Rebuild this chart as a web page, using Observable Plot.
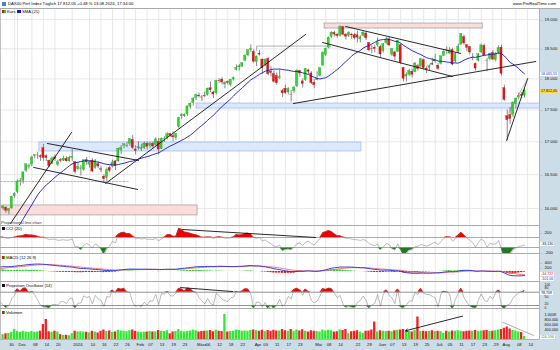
<!DOCTYPE html>
<html><head><meta charset="utf-8">
<script src="https://cdn.jsdelivr.net/npm/d3@7"></script>
<script src="https://cdn.jsdelivr.net/npm/@observablehq/plot@0.6"></script>
<style>
html,body{margin:0;padding:0;background:#fff}
#wrap{position:relative;width:560px;height:350px;overflow:hidden;background:#fff;font-family:"Liberation Sans",Arial,sans-serif;}
#wrap svg{position:absolute;left:0}
.t{position:absolute;font-size:4.2px;line-height:5px;white-space:nowrap;color:#000}
.bg{position:absolute}
</style></head><body><div id="wrap"></div><script>
// ---------------- DATA ----------------
const holidays = ["2023-12-25","2023-12-26","2024-01-01","2024-03-29","2024-04-01","2024-05-01"];
const firstDay = "2023-11-24", lastAxisDay = "2024-08-20";

const open = [
16000,16010,15960,16000,16180,
16240,16400,16410,16560,16620,16650,16780,16790,16780,16900,16780,16710,16660,16760,16650,16720,16710,16740,16700,
16750,16690,16580,16590,16570,16720,16650,16710,16600,16660,16580,16470,16450,16600,16620,16700,16700,16870,16940,16930,16970,17030,
16880,16900,16890,16900,16970,16940,16970,16950,17000,16890,17040,17060,17120,17090,17060,17230,17400,17400,17430,17550,17610,
17690,17730,17700,17720,17740,17850,17780,17770,17970,17990,17910,17950,17900,17990,18150,18190,18200,18300,18390,18480,
18450,18280,18420,18320,18230,18330,18120,18080,18050,18010,17800,17840,17780,17740,17800,17880,18130,17960,17980,18140,18090,
17940,17980,18050,18220,18400,18520,18700,18770,18740,18720,18870,18740,18720,18740,18730,18730,18660,18720,18760,18600,18500,18520,
18560,18530,18460,18600,18660,18400,18440,18450,18560,18180,18040,18070,18120,18110,18210,18200,18310,18170,18180,18250,
18290,18220,18250,18380,18480,18420,18480,18290,18450,18570,18700,18560,18530,18350,18250,18300,18440,18550,18300,18330,18430,18310,18430,
18520,17850,17400,17420,17420,17600,17700,17740,17730];
const high = [
16040,16030,16000,16180,16230,
16420,16440,16540,16660,16660,16780,16800,16840,16800,16961,16800,16720,16770,16800,16720,16740,16780,16770,16780,
16880,16700,16680,16640,16720,16760,16700,16740,16730,16700,16620,16500,16600,16630,16720,16710,16900,16940,16970,16990,17050,17100,
16940,17000,16960,17000,17000,16990,17000,17060,17050,17060,17080,17140,17130,17150,17130,17380,17440,17440,17560,17610,17700,
17750,17770,17730,17790,17850,17950,17800,17980,18000,18020,17960,17970,17990,18030,18230,18240,18270,18400,18480,18567,
18480,18380,18470,18330,18330,18360,18200,18130,18100,18150,17830,17900,17860,17810,17880,18150,18140,18000,18170,18160,18120,
17990,18120,18190,18450,18510,18700,18790,18800,18760,18892,18880,18760,18790,18760,18760,18800,18720,18790,18790,18610,18560,18560,
18680,18560,18590,18690,18690,18510,18460,18640,18580,18190,18100,18160,18160,18270,18240,18340,18330,18200,18230,18340,
18410,18250,18380,18480,18530,18520,18510,18430,18580,18760,18730,18570,18540,18420,18260,18420,18580,18580,18340,18430,18470,18440,18550,
18560,17900,17500,17540,17630,17690,17770,17780,17840];
const low = [
15970,15930,15910,15990,16150,
16220,16330,16360,16530,16580,16620,16740,16730,16700,16700,16700,16600,16650,16700,16620,16680,16700,16690,16690,
16700,16510,16560,16480,16550,16640,16600,16530,16580,16590,16530,16380,16400,16530,16600,16560,16680,16800,16890,16910,16930,16880,
16800,16870,16850,16880,16870,16900,16900,16930,16800,16880,16990,17030,17070,17000,17020,17200,17350,17380,17400,17510,17560,
17650,17690,17630,17700,17720,17780,17680,17740,17930,17900,17840,17900,17870,17970,18130,18130,18190,18280,18370,18440,
18260,18200,18380,18080,18200,18050,18030,17930,17900,17990,17700,17750,17740,17626,17760,17860,18030,17850,17960,18070,17910,
17840,17970,18030,18210,18370,18500,18680,18700,18680,18700,18720,18650,18690,18660,18650,18600,18600,18700,18640,18450,18420,18430,
18530,18350,18430,18570,18540,18370,18300,18440,18240,17950,17950,18040,18020,18100,18130,18180,18150,18090,18130,18220,
18260,18140,18230,18370,18410,18410,18220,18260,18420,18560,18560,18450,18400,18300,18130,18280,18420,18380,18120,18300,18300,18280,18400,
18050,17640,17024,17270,17380,17520,17660,17680,17690];
const close = [
16029,15967,15992,16166,16215,
16397,16405,16533,16656,16629,16759,16794,16791,16766,16752,16751,16630,16744,16733,16687,16706,16742,16702,16752,
16769,16538,16617,16594,16716,16688,16689,16547,16704,16622,16572,16432,16567,16555,16683,16627,16889,16907,16961,16942,17038,16904,
16859,16918,16904,16972,16922,16963,16927,17037,16880,17047,17046,17117,17093,17068,17118,17370,17419,17424,17556,17601,17678,
17735,17716,17698,17716,17842,17815,17747,17965,17961,17942,17936,17933,17987,18015,18180,18206,18261,18384,18477,18492,
18283,18367,18403,18175,18319,18077,18097,17955,17930,18027,17767,17770,17837,17737,17860,18137,18089,17917,18161,18118,17932,
17897,18001,18175,18430,18498,18686,18773,18742,18716,18869,18738,18704,18768,18726,18680,18691,18693,18775,18677,18473,18496,18498,
18608,18405,18575,18653,18557,18494,18369,18630,18265,18002,18068,18131,18067,18254,18164,18326,18177,18155,18211,18235,
18290,18164,18374,18450,18475,18472,18237,18407,18534,18748,18590,18518,18438,18354,18171,18407,18558,18387,18299,18417,18320,18411,18509,
18083,17661,17339,17354,17615,17680,17723,17726,17812];
// volume in thousands
const volume = [
190,230,240,290,400,
330,290,330,300,280,320,290,300,330,600,800,310,290,330,300,190,160,170,150,
230,330,300,310,300,290,260,330,300,260,330,380,320,340,280,300,370,340,330,310,350,380,
330,300,280,290,300,320,300,310,360,330,320,350,230,300,320,400,330,300,320,340,380,
350,300,320,330,340,360,310,370,330,320,1000,300,320,330,380,360,330,340,330,360,
380,350,330,370,310,360,330,370,340,340,400,350,330,400,330,380,340,390,330,300,350,
330,320,300,380,340,370,350,300,310,380,360,400,230,310,330,350,300,250,330,340,380,700,
300,350,330,320,330,310,350,370,380,400,330,320,300,370,900,320,330,310,320,350,
320,330,310,250,330,300,340,330,350,330,310,330,340,330,360,330,340,350,360,320,330,350,380,
400,450,500,420,360,340,300,280,116];
// history before the first visible candle (Aug 21 - Nov 23, 2023), for SMA / oscillators
const preClose = [15603,15771,15729,15622,15632,15792,15931,15892,15947,15840,
15825,15772,15742,15719,15740,15801,15715,15654,15806,15893,15727,15664,15782,15572,15557,
15405,15255,15218,15323,15387,15247,15085,15100,15070,15229,15128,15424,15461,15425,15187,
15238,15252,15095,15045,14798,14800,14880,14892,14731,14688,14716,14810,14924,15144,15189,
15136,15153,15229,15353,15234,15345,15615,15749,15787,15919,15901,15900,15958,15994];
const preHigh = [14860,14790,14770,14830,14940,15170,15250,15220,15170,15240,15370,15290,15370,15640,15800,15800,15950,15930,15940,15990,16010];
const preLow  = [14680,14630,14640,14710,14760,15000,15110,15110,15070,15120,15210,15160,15230,15330,15680,15690,15780,15840,15850,15880,15940];

const tickDates = ["2023-11-30","2023-12-01","2023-12-08","2023-12-14","2023-12-20","2024-01-02","2024-01-10","2024-01-16","2024-01-22","2024-01-26",
"2024-02-01","2024-02-07","2024-02-13","2024-02-19","2024-02-23","2024-03-01","2024-03-06","2024-03-12","2024-03-18","2024-03-22",
"2024-04-02","2024-04-05","2024-04-11","2024-04-17","2024-04-23","2024-05-02","2024-05-08","2024-05-14","2024-05-22","2024-05-28",
"2024-06-03","2024-06-07","2024-06-13","2024-06-19","2024-06-25","2024-07-01","2024-07-05","2024-07-11","2024-07-17","2024-07-23","2024-07-29",
"2024-08-01","2024-08-08","2024-08-14"];
const tickLabels = ["30","Dec.","08","14","20","2024","10","16","22","26","Feb.","07","13","19","23","März","06","12","18","22",
"Apr.","05","11","17","23","Mai","08","14","22","28","Juni","07","13","19","25","Juli","05","11","17","23","29","Aug.","08","14"];
const priceTicks = [16000,16500,17000,17500,18000,18500,19000];
const cciTicks = [200, -200];
const macdTicks = [400, 200];
const poTicks = [100, 80, 50, 20, 0];
const volTicks = [1000, 800, 600, 400];

// drawings: [date index, price] pairs
const trendLines = [
 [[2.6,15783],[23.75,17145]],
 [[15.4,16974],[47.0,16714]],
 [[10.6,16608],[46.7,16279]],
 [[35.6,16368],[105.0,18743]],
 [[118.9,18880],[158.8,18422]],
 [[110.9,18607],[156.0,18040]],
 [[100.8,17602],[184.9,18288]],
 [[174.8,17020],[182.1,18008]]
];
const zones = [
 {i1:111.6,i2:166.5,p1:18845,p2:18931,fill:"#fbdcdc",stroke:"#999"},
 {i1:-2,i2:67.5,p1:15899,p2:16044,fill:"#fbdcdc",stroke:"#999"},
 {i1:12.6,i2:124.4,p1:16851,p2:16989,fill:"#dce8fb",stroke:"#9bb6e6"},
 {i1:67.2,i2:190,p1:17522,p2:17602,fill:"#dce8fb",stroke:"#9bb6e6"}
];

// ---------------- LAYOUT ----------------
const wrap = document.getElementById("wrap");
const xDomain = [-0.9, 186.2];
const fmt = d => d3.format(",")(d).replace(/,/g, ".");
const GREEN = "#22dd22", RED = "#ee1111";
function tradingDays(a, b) {
  const out = []; const d = new Date(a + "T00:00:00Z"), e = new Date(b + "T00:00:00Z");
  while (d <= e) { const w = d.getUTCDay(), s = d.toISOString().slice(0,10);
    if (w !== 0 && w !== 6 && !holidays.includes(s)) out.push(s); d.setUTCDate(d.getUTCDate()+1); }
  return out;
}
const days = tradingDays(firstDay, lastAxisDay);
const idx = new Map(days.map((s,i)=>[s,i]));
const ticks = tickDates.map((s,k)=>({i: idx.get(s), label: tickLabels[k], first: k === 0}));

function div(cls, css, text) { const e = document.createElement("div"); e.className = cls; Object.assign(e.style, css); if (text != null) e.textContent = text; wrap.appendChild(e); return e; }
div("bg", {left:"539px", top:"8px", width:"21px", height:"342px", background:"#cddde8"});
div("bg", {left:"0px", top:"339px", width:"560px", height:"11px", background:"#cddde8"});

function panel(top, height, y, marks) {
  const svg = Plot.plot({
    width: 560, height, marginLeft: 0, marginRight: 21, marginTop: 0, marginBottom: 0,
    x: {type: "linear", domain: xDomain, axis: null},
    y: {...y, axis: null},
    style: {background: "transparent", fontFamily: "Liberation Sans, Arial, sans-serif", fontSize: "4.2px", overflow: "visible"},
    marks: [
      Plot.ruleX(ticks, {x: "i", stroke: "#e2e2e2", strokeWidth: 0.8}),
      ...marks,
      Plot.frame({stroke: "#9a9a9a", strokeWidth: 0.6})
    ]
  });
  svg.style.top = top + "px";
  wrap.appendChild(svg);
}
function rightLabels(values, fmtf, fs = 4.2) {
  return [
    Plot.text(values, {x: () => xDomain[1], y: d => d, text: fmtf, dx: 5, textAnchor: "start", fontSize: fs, fill: "#111"}),
    Plot.text(values, {x: () => xDomain[1], y: d => d, text: () => "-", dx: 1, textAnchor: "start", fontSize: fs, fill: "#333"})
  ];
}
function shiftedLabels(values, fmtf, shift, fs) {
  // axis labels nudged vertically (in px) where the scale is crowded
  return values.map(v => Plot.text([v], {x: () => xDomain[1], y: d => d, text: fmtf, dx: 5, dy: shift[v] || 0, textAnchor: "start", fontSize: fs, fill: "#111"}));
}

const bars = close.map((c,i)=>({i, o: open[i], h: high[i], l: low[i], c, v: volume[i], up: c >= open[i]}));
const off = preClose.length;
const allC = preClose.concat(close);
const series = allC.map((c,k)=>({i: k - off, c}));
const offHL = preHigh.length;
const allH = preHigh.concat(high), allL = preLow.concat(low);
const cHL = preClose.slice(off - offHL).concat(close);

// ---------- price panel ----------
const lineData = trendLines.flatMap((seg,k)=>seg.map(p=>({k, i:p[0], p:p[1]})));
panel(8, 217, {type: "log", domain: [15754, 19191]}, [
  Plot.ruleY(priceTicks, {stroke: "#e2e2e2", strokeWidth: 0.8}),
  Plot.rect(zones, {x1: "i1", x2: "i2", y1: "p1", y2: "p2", fill: "fill", stroke: "stroke", strokeWidth: 0.7, clip: true}),
  Plot.line([{i:88,p:18472},{i:88,p:18546},{i:113.7,p:18546}], {x:"i", y:"p", stroke:"#999", strokeWidth:0.8}),
  Plot.line([{i:-1,p:16398},{i:43.5,p:16398}], {x:"i", y:"p", stroke:"#999", strokeWidth:0.7, strokeDasharray:"2,1.5", clip:true}),
  Plot.ruleX(bars, {x: "i", y1: "l", y2: "h", stroke: "#555", strokeWidth: 0.7}),
  Plot.rect(bars, {x1: d=>d.i-0.37, x2: d=>d.i+0.37, y1: "o", y2: d => d.c === d.o ? d.o*1.0003 : d.c, fill: d => d.up ? GREEN : RED, stroke: d => d.up ? "#168a16" : "#991010", strokeWidth: 0.25}),
  Plot.lineY(series, Plot.windowY({k: 21, anchor: "end", reduce: "mean"}, {x: "i", y: "c", stroke: "#1515c8", strokeWidth: 0.9, clip: true})),
  Plot.line(lineData, {x: "i", y: "p", z: "k", stroke: "#111", strokeWidth: 0.9, clip: true}),
  Plot.line([{i:175.5,p:17459},{i:182.1,p:18008}], {x:"i", y:"p", stroke:"#777", strokeWidth:0.5}),
  ...rightLabels(priceTicks, fmt)
]);

// ---------- CCI ----------
const cci = [];
for (let k = 19; k < allH.length; k++) {
  const tp = d3.range(k-19, k+1).map(j => (allH[j] + allL[j] + cHL[j]) / 3);
  const m = d3.mean(tp), md = d3.mean(tp, t => Math.abs(t - m));
  cci.push({i: k - offHL, v: (tp[19] - m) / (0.015 * md)});
}
panel(225, 28, {domain: [-220, 340]}, [
  Plot.areaY(cci, {x: "i", y1: () => 100, y2: d => Math.max(100, d.v), fill: "#ee0000", clip: true}),
  Plot.areaY(cci, {x: "i", y1: d => Math.min(-100, d.v), y2: () => -100, fill: "#1f7a1f", clip: true}),
  Plot.ruleY([100, -100], {stroke: "#8a8af0", strokeWidth: 0.8}),
  Plot.line(cci, {x: "i", y: "v", stroke: "#777", strokeWidth: 0.5, clip: true}),
  Plot.line([{i:62.3,v:260},{i:108.5,v:100}], {x:"i", y:"v", stroke:"#111", strokeWidth:0.9}),
  ...rightLabels(cciTicks, d => String(d))
]);

// ---------- MACD ----------
const ema = (arr, p) => { const a = 2/(p+1); let e = arr[0]; return arr.map(v => e = a*v + (1-a)*e); };
const e12 = ema(allC, 12), e26 = ema(allC, 26);
const mline = allC.map((_,k) => e12[k] - e26[k]);
const sig = ema(mline, 9);
const macd = allC.map((_,k) => ({i: k - off, m: mline[k], s: sig[k], h: mline[k] - sig[k]})).filter(d => d.i >= -1);
panel(253, 28, {domain: [-480, 860]}, [
  Plot.rect(macd, {x1: d=>d.i-0.4, x2: d=>d.i+0.4, y1: () => 0, y2: "h", fill: d => d.h >= 0 ? "#22cc22" : "#ee1111", clip: true}),
  Plot.line(macd, {x: "i", y: "s", stroke: "#f07070", strokeWidth: 0.9, clip: true}),
  Plot.line(macd, {x: "i", y: "m", stroke: "#2a2ae0", strokeWidth: 0.9, clip: true}),
  ...rightLabels(macdTicks, d => String(d))
]);

// ---------- Projection Oscillator ----------
const po = [], n = 14;
for (let k = n - 1; k < allH.length; k++) {
  const js = d3.range(n);
  const hs = js.map(j => allH[k-n+1+j]), ls = js.map(j => allL[k-n+1+j]);
  const slope = ys => { const mx = (n-1)/2, my = d3.mean(ys); let a = 0, b = 0; js.forEach(j => { a += (j-mx)*(ys[j]-my); b += (j-mx)**2; }); return a/b; };
  const sh = slope(hs), sl = slope(ls);
  const ub = d3.max(js, j => hs[j] + (n-1-j)*sh), lb = d3.min(js, j => ls[j] + (n-1-j)*sl);
  po.push({i: k - offHL, v: 100 * (cHL[k] - lb) / (ub - lb)});
}
panel(281, 27, {domain: [6.5, 128.3]}, [
  Plot.areaY(po, {x: "i", y1: () => 80, y2: d => Math.max(80, d.v), fill: "#ee0000", clip: true}),
  Plot.areaY(po, {x: "i", y1: d => Math.min(20, d.v), y2: () => 20, fill: "#1f7a1f", clip: true}),
  Plot.ruleY([80, 20], {stroke: "#777", strokeWidth: 0.8}),
  Plot.line(po, {x: "i", y: "v", stroke: "#777", strokeWidth: 0.5, clip: true}),
  Plot.line([{i:61.6,v:101},{i:79.7,v:83}], {x:"i", y:"v", stroke:"#111", strokeWidth:0.9}),
  ...shiftedLabels(poTicks, d => String(d), {100: -3.3, 80: -3.9, 50: -1.6, 20: -1.5, 0: -2}, 3.4)
]);

// ---------- Volume ----------
panel(308, 31, {domain: [0, 1240]}, [
  Plot.rect(bars, {x1: d=>d.i-0.4, x2: d=>d.i+0.4, y1: () => 0, y2: "v", fill: d => d.up ? "#33e833" : "#ee2222"}),
  Plot.arrow([{x1:159.5,y1:935,x2:139.7,y2:350}], {x1:"x1", y1:"y1", x2:"x2", y2:"y2", stroke:"#111", strokeWidth:0.9, headLength:4}),
  Plot.line([{i:173.4,v:690},{i:184.2,v:160}], {x:"i", y:"v", stroke:"#777", strokeWidth:0.6}),
  ...shiftedLabels(volTicks, d => d === 1000 ? "1.000K" : fmt(d*1000), {}, 3.8)
]);

// ---------- date axis ----------
const axSvg = Plot.plot({
  width: 560, height: 11, marginLeft: 0, marginRight: 21, marginTop: 0, marginBottom: 0,
  x: {type: "linear", domain: xDomain, axis: null}, y: {domain: [0, 1], axis: null},
  style: {background: "transparent", fontFamily: "Liberation Sans, Arial, sans-serif", overflow: "visible"},
  marks: [
    Plot.text(ticks.filter(d => !d.first), {x: "i", y: () => 0.5, text: "label", textAnchor: "start", dx: 1, fontSize: 4.2, fill: "#111", fontWeight: d => /[a-zA-Z]|2024/.test(d.label) ? "bold" : "normal"}),
    Plot.text(ticks.filter(d => d.first), {x: "i", y: () => 0.5, text: "label", textAnchor: "end", dx: -0.8, fontSize: 4.2, fill: "#111"})
  ]
});
axSvg.style.top = "339px"; wrap.appendChild(axSvg);

// ---------- texts ----------
div("bg", {left:"0px", top:"7.5px", width:"560px", height:"0.6px", background:"#aaa"});
div("bg", {left:"2px", top:"1.5px", width:"4px", height:"4px", background:"#4a7fd0", borderRadius:"0.5px"});
div("t", {left:"8px", top:"1px"}, "DAX40 Perf Index Täglich 17.812,05 +0.48 % 13.08.2024, 17:34:00");
div("t", {right:"4px", top:"1px"}, "www.ProRealTime.com");
div("bg", {left:"2px", top:"10px", width:"2px", height:"3px", background:"#ee1111"});
div("bg", {left:"4px", top:"10px", width:"2px", height:"3px", background:"#22cc22"});
div("t", {left:"7px", top:"9.2px"}, "Kurs");
div("bg", {left:"17px", top:"10px", width:"4px", height:"3px", background:"#1515c8"});
div("t", {left:"22px", top:"9.2px"}, "SMA (21)");
div("t", {left:"1px", top:"220px", color:"#333"}, "Proportional line chan");
div("bg", {left:"2px", top:"227px", width:"3px", height:"3px", background:"#111"});
div("t", {left:"6px", top:"226px"}, "CCI (20)");
div("bg", {left:"2px", top:"256px", width:"1.5px", height:"3px", background:"#ee1111"});
div("bg", {left:"3.5px", top:"256px", width:"1.5px", height:"3px", background:"#22cc22"});
div("t", {left:"6px", top:"255px"}, "MACD (12 26 9)");
div("bg", {left:"2px", top:"284px", width:"3px", height:"3px", background:"#111"});
div("t", {left:"6px", top:"283px"}, "Projection Oscillator (14)");
div("bg", {left:"2px", top:"311px", width:"1.5px", height:"3px", background:"#ee1111"});
div("bg", {left:"3.5px", top:"311px", width:"1.5px", height:"3px", background:"#22cc22"});
div("t", {left:"6px", top:"310px"}, "Volumen");
// value boxes on the right scale
const vb = {padding:"0 1px", fontSize:"3.6px", lineHeight:"4px", background:"#fff"};
div("t", {left:"540px", top:"88.5px", ...vb, background:"#ffd83a"}, "17.812,05");
div("t", {left:"540px", top:"72px", ...vb, color:"#2a2ae0"}, "18.065,55");
div("t", {left:"540px", top:"242px", ...vb}, "-33,130");
div("t", {left:"540px", top:"272px", ...vb, color:"#ee1111"}, "-34,722");
div("t", {left:"540px", top:"276.6px", ...vb, color:"#2a2ae0"}, "-101,06");
div("t", {left:"540px", top:"290.6px", ...vb}, "78,709");
div("t", {left:"540px", top:"334.5px", ...vb, color:"#18a018"}, "116.196");
</script></body></html>
